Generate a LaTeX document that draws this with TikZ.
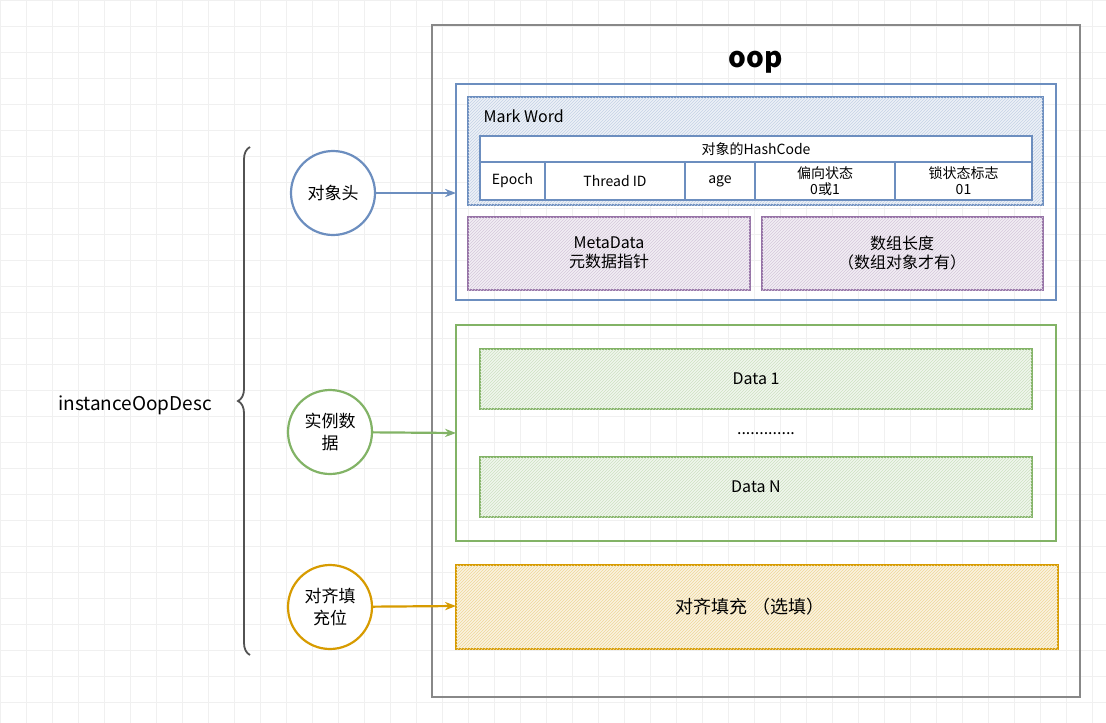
\documentclass[tikz,border=0pt]{standalone}
\usepackage{fontspec}
\setmainfont{Noto Sans CJK SC}
\usetikzlibrary{patterns,decorations.pathreplacing,arrows.meta}
\definecolor{bl}{HTML}{6C8EBF}
\definecolor{pu}{HTML}{9673A6}
\definecolor{gr}{HTML}{82B366}
\definecolor{or}{HTML}{D79B00}
\definecolor{gy}{HTML}{888888}
\begin{document}
\begin{tikzpicture}[x=1pt,y=-1pt,
  box/.style={draw=#1,line width=2.2pt},
  hb/.style={draw=#1,line width=2.2pt,fill=#1!12,postaction={pattern=north east lines,pattern color=#1!40}},
  cell/.style={draw=bl,line width=2pt,fill=white,inner sep=0pt,font=\fontsize{14}{16}\selectfont,align=center},
  circ/.style={circle,draw=#1,line width=2.2pt,fill=white,minimum size=84pt,inner sep=0pt,align=center,font=\fontsize{17}{22}\selectfont},
  arr/.style={draw=#1,line width=2.2pt,-{Stealth[length=11pt]}},
  txt/.style={font=\fontsize{16}{19}\selectfont,align=center}]
\useasboundingbox (0,0) rectangle (1106,723);
\foreach \i in {0,26,...,1106} \draw[black!6] (\i,0) -- (\i,723);
\foreach \j in {0,26,...,723} \draw[black!6] (0,\j) -- (1106,\j);
\draw[gy,line width=1.6pt] (432,25) rectangle (1080,697);
\node[font=\bfseries\fontsize{28}{30}\selectfont] (oop) at (756,62) {oop};
% header
\draw[box=bl] (456,84) rectangle (1056,300);
\coordinate (hdr) at (456,193);
\draw[hb=bl] (468,97) rectangle (1043,205);
\node[anchor=west,txt] (mw) at (480,116) {Mark Word};
\node[cell,minimum width=552pt,minimum height=27pt] (hash) at (756,149) {对象的HashCode};
\node[cell,minimum width=65pt,minimum height=38pt] (ep) at (512.5,181) {Epoch};
\node[cell,minimum width=140pt,minimum height=38pt] (tid) at (615,181) {Thread ID};
\node[cell,minimum width=70pt,minimum height=38pt] (age) at (720,181) {age};
\node[cell,minimum width=140pt,minimum height=38pt] (bias) at (825,181) {偏向状态\\0或1};
\node[cell,minimum width=137pt,minimum height=38pt] (lock) at (963.5,181) {锁状态标志\\01};
\draw[hb=pu] (468,217) rectangle (750,290);
\node[txt] (meta) at (609,253) {MetaData\\元数据指针};
\draw[hb=pu] (762,217) rectangle (1043,290);
\node[txt] (alen) at (902,253) {数组长度\\（数组对象才有）};
% data
\draw[box=gr] (456,325) rectangle (1056,541);
\coordinate (dat) at (456,433);
\draw[hb=gr] (480,349) rectangle (1032,409);
\node[txt] (d1) at (756,379) {Data 1};
\node[txt] (dots) at (766,434) {.............};
\draw[hb=gr] (480,457) rectangle (1032,517);
\node[txt] (dn) at (756,487) {Data N};
% padding
\draw[hb=or] (456,565) rectangle (1058,649);
\coordinate (pad) at (456,606);
\node[txt,font=\fontsize{18}{20}\selectfont] (padt) at (750,607) {对齐填充 （选填）};
% circles
\node[circ=bl] (c1) at (333,193) {对象头};
\node[circ=gr] (c2) at (330,432) {实例数\\据};
\node[circ=or] (c3) at (330,607) {对齐填\\充位};
\draw[arr=bl] (c1) -- (hdr);
\draw[arr=gr] (c2) -- (dat);
\draw[arr=or] (c3) -- (pad);
% brace
\draw[gy!60!black,line width=1.8pt,decorate,decoration={brace,amplitude=12pt}] (250,655) -- (250,147);
\node[font=\fontsize{19}{21}\selectfont] (iod) at (135,405) {instanceOopDesc};
\end{tikzpicture}
\end{document}
